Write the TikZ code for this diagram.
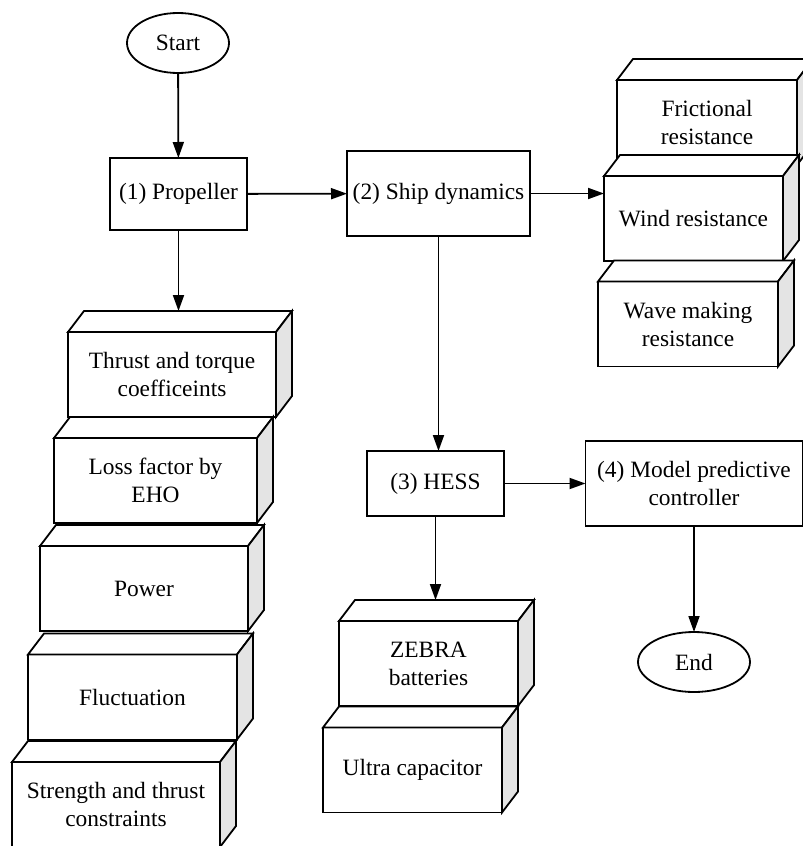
\documentclass[tikz,border=0pt]{standalone}
\usepackage{fontspec}
\setmainfont{Liberation Serif}
\usetikzlibrary{calc,positioning,shapes.geometric,arrows.meta}
\definecolor{sidegray}{RGB}{228,228,228}

\begin{document}
\begin{tikzpicture}[x=0.5pt, y=-0.5pt, line width=0.9pt,
    font=\fontsize{11.7}{14}\selectfont,
    flow/.style={-{Triangle[length=8pt,width=5.5pt]}},
    term/.style={draw, ellipse, inner sep=0pt, outer sep=0pt},
    proc/.style={draw, rectangle, align=center, inner sep=0pt, outer sep=0pt},
    layer/.style={draw, fill=white, rectangle, align=center, inner sep=0pt, outer sep=0pt,
        minimum width=#1*0.5pt, minimum height=42.5pt}]
    \useasboundingbox (0,0) rectangle (803,846);
    \def\dx{16}
    \def\dy{21}

    % Main flow
    \node[term, minimum width=51pt, minimum height=30pt] (start) at (178,43) {Start};
    \node[proc, minimum width=68.5pt, minimum height=36pt] (prop) at (178.5,194) {(1) Propeller};
    \node[proc, minimum width=91.5pt, minimum height=42.5pt] (ship) at (438.5,193.5) {(2) Ship dynamics};
    \node[proc, minimum width=68.5pt, minimum height=32.5pt] (hess) at (435.5,483.5) {(3) HESS};
    \node[proc, minimum width=108.5pt, minimum height=42.5pt] (mpc) at (694,483.5) {(4) Model predictive\\controller};
    \node[term, minimum width=56pt, minimum height=30pt] (end) at (694,662) {End};

    % 3D blocks, top to bottom in each stack
    \foreach \nm/\cx/\cy/\w/\txt in {
        fric/707/122.5/180/{Frictional\\resistance},
        wind/693.5/218.5/179/{Wind resistance},
        wave/688/324/180/{Wave making\\resistance},
        thr/172/374.5/208/{Thrust and torque\\coefficeints},
        loss/155.5/480.5/203/{Loss factor by\\EHO},
        pow/144/588.5/208/{Power},
        fluc/132.5/697/209/{Fluctuation},
        strc/116/804.5/208/{Strength and thrust\\constraints},
        zeb/428.5/663.5/179/{ZEBRA\\batteries},
        ultra/412.5/770/179/{Ultra capacitor}} {
        \node[layer=\w] (\nm) at (\cx,\cy) {\txt};
        \draw[fill=white] (\nm.north west) -- ++(\dx,-\dy) -- ($(\nm.north east)+(\dx,-\dy)$) -- (\nm.north east) -- cycle;
        \draw[fill=sidegray] (\nm.north east) -- ++(\dx,-\dy) -- ($(\nm.south east)+(\dx,-\dy)$) -- (\nm.south east) -- cycle;
        \coordinate (\nm-top) at ($(\nm.north)+(\dx,-\dy)$);
    };

    % Connectors
    \draw[flow] (start) -- (prop);
    \draw[flow] (prop) -- (ship);
    \draw[flow] (ship.east) -- (ship.east -| wind.west);
    \draw[flow] (prop.south) -- (prop.south |- thr-top);
    \draw[flow] (ship.south) -- (ship.south |- hess.north);
    \draw[flow] (hess) -- (mpc);
    \draw[flow] (hess.south) -- (hess.south |- zeb-top);
    \draw[flow] (mpc) -- (end);
\end{tikzpicture}
\end{document}
